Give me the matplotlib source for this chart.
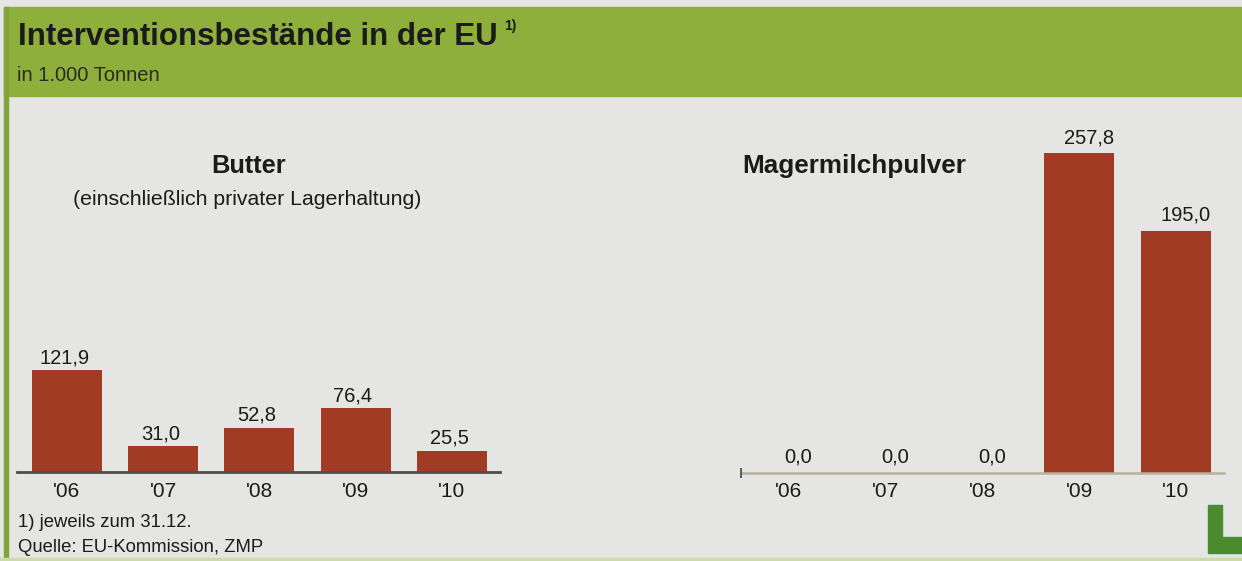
import matplotlib
matplotlib.use("Agg")
import matplotlib.pyplot as plt
from matplotlib.patches import Rectangle, Polygon
import numpy as np

plt.rcParams['font.family'] = ['Liberation Sans', 'DejaVu Sans']

# --- data -------------------------------------------------------------
years = ["'06", "'07", "'08", "'09", "'10"]
butter = [121.9, 31.0, 52.8, 76.4, 25.5]
magermilch = [0.0, 0.0, 0.0, 257.8, 195.0]

title = "Interventionsbestände in der EU"
unit = "in 1.000 Tonnen"
footnote = "1) jeweils zum 31.12."
source = "Quelle: EU-Kommission, ZMP"

# --- style -------------------------------------------------------------
W, H = 1242, 561
BG = "#e5e5e3"
HEADER = "#8eaf3c"
BORDER = "#83a33c"
BAR = "#a23b23"
TXT = "#1b1b1a"


def fx(x):
    return x / W


def fy(y):
    return 1 - y / H


fig = plt.figure(figsize=(W / 100, H / 100), dpi=100)
fig.patch.set_facecolor(BG)

# frame: green header band, left rule, bottom rule
fig.add_artist(Rectangle((fx(4), fy(96)), (W - 4) / W, 89 / H,
                         transform=fig.transFigure, color=HEADER, zorder=0))
fig.add_artist(Rectangle((fx(4), 0), 4 / W, fy(7),
                         transform=fig.transFigure, color=BORDER, zorder=1))
fig.add_artist(Rectangle((0, 0), 1, 3 / H,
                         transform=fig.transFigure, color="#cbdcaa", zorder=1))

# logo mark bottom right
fig.add_artist(Polygon([(fx(1208), fy(505)), (fx(1222), fy(505)),
                        (fx(1222), fy(537)), (fx(1242), fy(537)),
                        (fx(1242), fy(553)), (fx(1208), fy(553))],
                       closed=True, transform=fig.transFigure,
                       color="#4b8a2d", zorder=2))

overlay = fig.add_axes([0, 0, 1, 1], zorder=5)
overlay.set_axis_off()
overlay.patch.set_alpha(0)
overlay.set_xlim(0, 1)
overlay.set_ylim(0, 1)

t = overlay.text(fx(18), fy(45), title, fontsize=22.5, fontweight="bold",
                 va="baseline", ha="left", color=TXT)
overlay.annotate("1)", xy=(1, 1), xycoords=t, xytext=(5, 2),
                 textcoords="offset points", va="top", ha="left",
                 fontsize=10, fontweight="bold", color=TXT)
overlay.text(fx(17), fy(81), unit, fontsize=14.5, va="baseline",
             ha="left", color="#2a2a22")

overlay.text(fx(249), fy(173), "Butter", fontsize=18.3, fontweight="bold",
             ha="center", va="baseline", color=TXT)
overlay.text(fx(247), fy(205), "(einschließlich privater Lagerhaltung)",
             fontsize=15.3, ha="center", va="baseline", color=TXT)
overlay.text(fx(742), fy(173), "Magermilchpulver", fontsize=18.8,
             fontweight="bold", ha="left", va="baseline", color=TXT)

overlay.text(fx(18), fy(527), footnote, fontsize=13.3, va="baseline",
             ha="left", color=TXT)
overlay.text(fx(18), fy(552), source, fontsize=13.3, va="baseline",
             ha="left", color=TXT)


def fmt(v):
    return f"{v:.1f}".replace(".", ",")


def panel(rect, values, xlim, ytop, width, spine_color, spine_lw,
          label_dy, label_dx):
    ax = fig.add_axes(rect)
    ax.patch.set_alpha(0)
    x = np.arange(len(values))
    ax.bar(x, values, width=width, color=BAR, zorder=2)
    for xi, v in zip(x, values):
        ax.annotate(fmt(v), (xi, v), xytext=(label_dx, label_dy),
                    textcoords="offset points", ha="center", va="baseline",
                    fontsize=14.5, color=TXT)
    ax.set_xlim(*xlim)
    ax.set_ylim(0, ytop)
    ax.set_xticks(x)
    ax.set_xticklabels(years)
    ax.tick_params(axis="x", length=0, pad=7, labelsize=15, colors=TXT)
    ax.set_yticks([])
    for s in ("top", "left", "right"):
        ax.spines[s].set_visible(False)
    ax.spines["bottom"].set_color(spine_color)
    ax.spines["bottom"].set_linewidth(spine_lw)
    return ax


ax1 = panel([fx(17), fy(472), (500 - 17) / W, (472 - 110) / H], butter,
            (-0.519, 4.499), 362 / 0.835, 0.727, "#4d4d4a", 2.0, 5.0, -2)

ax2 = panel([fx(741), fy(472.5), (1224 - 741) / W, (472.5 - 100) / H],
            magermilch, (-0.485, 4.495), 372.5 / 1.24, 0.73, "#b9b199", 1.8,
            7.0, 7)
ax2.plot([-0.485], [0], marker="|", ms=7, mew=1.3, color="#555552",
         clip_on=False, zorder=3)

fig.savefig("out.png", dpi=100, facecolor=fig.get_facecolor())
